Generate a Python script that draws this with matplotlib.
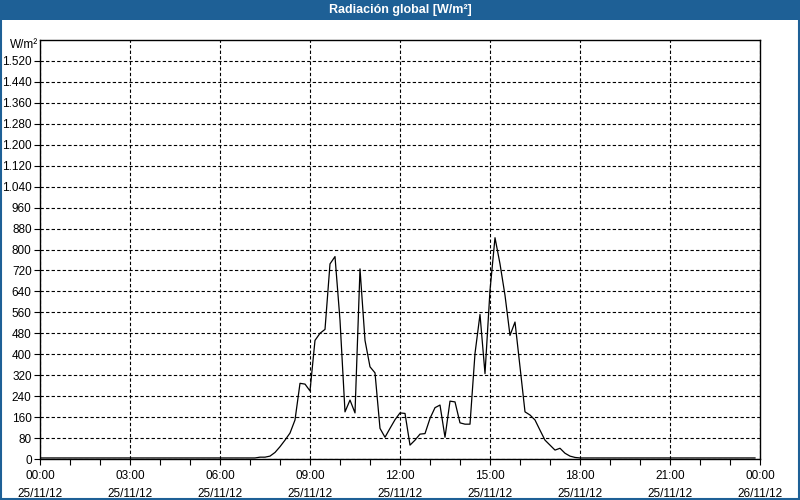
import numpy as np
import matplotlib
matplotlib.use("Agg")
import matplotlib.pyplot as plt
from matplotlib.ticker import MultipleLocator, FuncFormatter
from matplotlib.patches import Rectangle

# global radiation, 25/11/12, W/m2 (10 min samples)
times = ["00:00", "07:10", "07:20", "07:30", "07:40", "07:50", "08:00", "08:10",
         "08:20", "08:30", "08:40", "08:50", "09:00", "09:10", "09:20", "09:30",
         "09:40", "09:50", "10:00", "10:10", "10:20", "10:30", "10:40", "10:50",
         "11:00", "11:10", "11:20", "11:30", "11:40", "11:50", "12:00", "12:10",
         "12:20", "12:30", "12:40", "12:50", "13:00", "13:10", "13:20", "13:30",
         "13:40", "13:50", "14:00", "14:10", "14:20", "14:30", "14:40", "14:50",
         "15:00", "15:10", "15:20", "15:30", "15:40", "15:50", "16:00", "16:10",
         "16:20", "16:30", "16:40", "16:50", "17:00", "17:10", "17:20", "17:30",
         "17:40", "17:50", "18:00", "23:50"]
values = [4, 4, 7, 7, 11, 25, 47, 72,
          99, 149, 289, 286, 260, 453, 480, 495,
          745, 773, 530, 180, 225, 176, 726, 453,
          352, 329, 117, 83, 117, 150, 176, 174,
          53, 72, 95, 97, 155, 196, 206, 83,
          221, 218, 138, 133, 133, 403, 552, 326,
          644, 845, 745, 625, 472, 523, 352, 180,
          168, 149, 110, 72, 53, 34, 41, 22,
          11, 6, 4, 4]

xlabels = ["00:00\n25/11/12", "03:00\n25/11/12", "06:00\n25/11/12", "09:00\n25/11/12",
           "12:00\n25/11/12", "15:00\n25/11/12", "18:00\n25/11/12", "21:00\n25/11/12",
           "00:00\n26/11/12"]

hours = [int(t[:2]) + int(t[3:]) / 60 for t in times]

plt.rcParams['font.family'] = ['Liberation Sans', 'DejaVu Sans']
fig = plt.figure(figsize=(8, 5), dpi=100)
fig.patch.set_facecolor('white')

# title bar and frame
blue = '#1e6096'
fig.patches.append(Rectangle((0, 0.96), 1, 0.04, transform=fig.transFigure,
                             facecolor=blue, edgecolor='none'))
fig.patches.append(Rectangle((0.001, 0.002), 0.998, 0.996, transform=fig.transFigure,
                             facecolor='none', edgecolor=blue, linewidth=1.5))
fig.text(0.5, 0.979, 'Radiación global [W/m²]', color='white', fontsize=9,
         fontweight='bold', ha='center', va='center')

ax = fig.add_axes([0.05, 0.082, 0.9, 0.838])
ax.plot(hours, values, color='black', linewidth=0.9)

ax.set_xlim(0, 24)
ax.set_ylim(0, 1600)
ax.set_xticks(np.arange(0, 25, 3))
ax.set_xticklabels(xlabels, linespacing=1.65)
ax.xaxis.set_minor_locator(MultipleLocator(1))
ax.set_yticks(np.arange(0, 1521, 80))
ax.yaxis.set_major_formatter(FuncFormatter(lambda v, p: f"{int(v):,}".replace(',', '.')))

ax.grid(True, which='major', color='black', linestyle=(0, (3, 2)), linewidth=0.8)
ax.tick_params(axis='both', which='both', labelsize=8.5, length=4, width=0.8,
               direction='out', color='black', pad=2)
ax.tick_params(axis='x', pad=4)
for s in ax.spines.values():
    s.set_linewidth(1.0)

fig.text(0.013, 0.909, 'W/m²', fontsize=8.5, ha='left', va='center')

fig.savefig('out.png', dpi=100)
